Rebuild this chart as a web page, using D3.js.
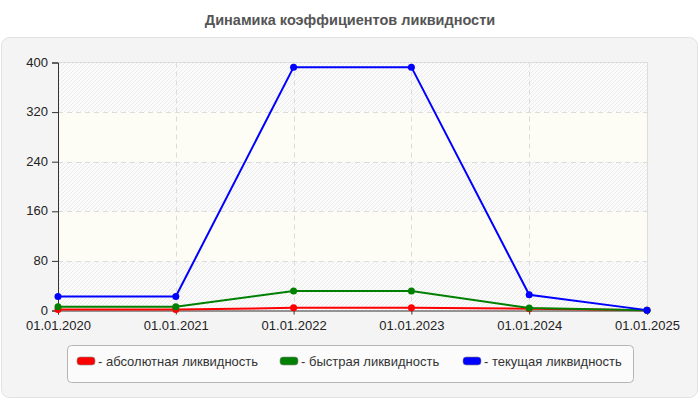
<!DOCTYPE html>
<html>
<head>
<meta charset="utf-8">
<script src="https://cdn.jsdelivr.net/npm/d3@7"></script>
<style>
  body { margin: 0; background: #fff; }
  svg { display: block; font-family: Arial, "Liberation Sans", sans-serif; }
</style>
</head>
<body>
<svg id="chart" width="700" height="400"></svg>
<script>
const title = "Динамика коэффициентов ликвидности";
const dates = ["01.01.2020", "01.01.2021", "01.01.2022", "01.01.2023", "01.01.2024", "01.01.2025"];
const absoluteVals = [1.5, 1.5, 4.3, 4.3, 2.8, 0.3];
const quickVals = [6, 6, 31.5, 31.5, 4, 0.5];
const currentVals = [22.6, 22.6, 392.5, 392.5, 25.3, 0.6];
const yTicks = [0, 80, 160, 240, 320, 400];

const series = [
  { name: "- абсолютная ликвидность", color: "#ff0000", values: absoluteVals },
  { name: "- быстрая ликвидность", color: "#008000", values: quickVals },
  { name: "- текущая ликвидность", color: "#0000ff", values: currentVals },
];

const svg = d3.select("#chart");
const margin = { top: 62.5, right: 53, bottom: 89.5, left: 58 };
const W = 700, H = 400;
const pw = W - margin.left - margin.right;
const ph = H - margin.top - margin.bottom;

// hatch pattern for the plot background
const defs = svg.append("defs");
const pat = defs.append("pattern")
  .attr("id", "hatch")
  .attr("patternUnits", "userSpaceOnUse")
  .attr("width", 4).attr("height", 4);
pat.append("rect").attr("width", 4).attr("height", 4).attr("fill", "#fbfbfb");
pat.append("path").attr("d", "M-1,1 l2,-2 M0,4 l4,-4 M3,5 l2,-2")
  .attr("stroke", "#ebebeb").attr("stroke-width", 1);

// title
svg.append("text")
  .attr("x", W / 2).attr("y", 25)
  .attr("text-anchor", "middle")
  .attr("font-size", 14.5).attr("font-weight", "bold")
  .attr("fill", "#555")
  .text(title);

// outer panel
svg.append("rect")
  .attr("x", 1.5).attr("y", 37.5)
  .attr("width", 696).attr("height", 360)
  .attr("rx", 8)
  .attr("fill", "#f4f4f4")
  .attr("stroke", "#e2e2e2");

const x = d3.scalePoint().domain(dates).range([margin.left, W - margin.right]);
const y = d3.scaleLinear().domain([0, 400]).range([H - margin.bottom, margin.top]);

// plot background bands
const g = svg.append("g");
g.append("rect")
  .attr("x", margin.left).attr("y", margin.top)
  .attr("width", pw).attr("height", ph)
  .attr("fill", "url(#hatch)");
d3.pairs(yTicks).forEach(([a, b], i) => {
  if (i % 2 === 1) {
    g.append("rect")
      .attr("x", margin.left).attr("y", y(b))
      .attr("width", pw).attr("height", y(a) - y(b))
      .attr("fill", "#fdfdf6");
  }
});
// plot frame (top / right)
g.append("path")
  .attr("d", `M${margin.left},${margin.top}H${W - margin.right + 0.5}V${H - margin.bottom}`)
  .attr("fill", "none").attr("stroke", "#dddddd");

// grid
g.selectAll(".hgrid").data(yTicks.slice(1, -1)).enter().append("line")
  .attr("x1", margin.left).attr("x2", W - margin.right)
  .attr("y1", d => Math.round(y(d)) + 0.5).attr("y2", d => Math.round(y(d)) + 0.5)
  .attr("stroke", "#dcdcdc").attr("stroke-dasharray", "5,4");
g.selectAll(".vgrid").data(dates.slice(1, -1)).enter().append("line")
  .attr("x1", d => Math.round(x(d)) + 0.5).attr("x2", d => Math.round(x(d)) + 0.5)
  .attr("y1", margin.top).attr("y2", H - margin.bottom)
  .attr("stroke", "#dcdcdc").attr("stroke-dasharray", "5,4");

// axes
const yAxis = svg.append("g")
  .attr("transform", `translate(${margin.left},0)`)
  .call(d3.axisLeft(y).tickValues(yTicks).tickSize(6).tickPadding(4));
const xAxis = svg.append("g")
  .attr("transform", `translate(0,${H - margin.bottom})`)
  .call(d3.axisBottom(x).tickSize(4).tickPadding(6));
[yAxis, xAxis].forEach(a => {
  a.select(".domain").attr("stroke", "#333");
  a.selectAll(".tick line").attr("stroke", "#333");
  a.selectAll(".tick text").attr("font-size", 13).attr("fill", "#222")
    .attr("font-family", "Arial, 'Liberation Sans', sans-serif");
});
yAxis.selectAll(".tick text").attr("dy", "0.28em");

// lines + markers
const line = d3.line().x((d, i) => x(dates[i])).y(d => y(d));
series.forEach(s => {
  svg.append("path")
    .datum(s.values)
    .attr("d", line)
    .attr("fill", "none")
    .attr("stroke", s.color)
    .attr("stroke-width", 2);
  svg.selectAll(null).data(s.values).enter().append("circle")
    .attr("cx", (d, i) => x(dates[i]))
    .attr("cy", d => y(d))
    .attr("r", 3.5)
    .attr("fill", s.color);
});

// legend
const lg = svg.append("g");
lg.append("rect")
  .attr("x", 67.5).attr("y", 345.5)
  .attr("width", 566).attr("height", 37)
  .attr("rx", 4)
  .attr("fill", "#fbfbfb")
  .attr("stroke", "#b5b5b5");
const legendX = [77, 280, 463];
series.forEach((s, i) => {
  lg.append("rect")
    .attr("x", legendX[i]).attr("y", 357)
    .attr("width", 18).attr("height", 8)
    .attr("rx", 3)
    .attr("fill", s.color)
    .attr("stroke", "#888").attr("stroke-width", 0.6);
  lg.append("text")
    .attr("x", legendX[i] + 21).attr("y", 366)
    .attr("font-size", 13).attr("fill", "#333")
    .text(s.name);
});
</script>
</body>
</html>
